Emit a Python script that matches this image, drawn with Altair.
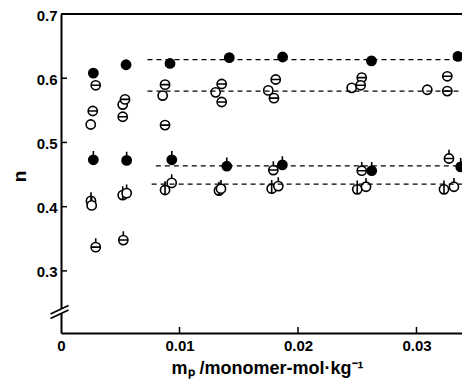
import altair as alt
import pandas as pd

# ---------------- data ----------------
# upper group
fill_x = [0.00273, 0.00549, 0.0092, 0.0142, 0.0187, 0.0262, 0.0335]
fill_y = [0.608, 0.621, 0.623, 0.632, 0.633, 0.627, 0.634]
open_x = [0.00251, 0.00521, 0.00858, 0.01305, 0.01749, 0.02453, 0.03091]
open_y = [0.528, 0.559, 0.573, 0.578, 0.581, 0.585, 0.582]
bara_x = [0.00293, 0.0054, 0.00878, 0.01356, 0.01812, 0.02538, 0.0326]
bara_y = [0.589, 0.567, 0.590, 0.591, 0.598, 0.601, 0.603]
barb_x = [0.00268, 0.00521, 0.00878, 0.01356, 0.01797, 0.02529, 0.0326]
barb_y = [0.549, 0.540, 0.527, 0.563, 0.569, 0.589, 0.580]
# lower group (symbols with a pip)
fillpip_x = [0.00273, 0.00554, 0.00935, 0.01399, 0.01868, 0.02622, 0.03373]
fillpip_y = [0.473, 0.472, 0.473, 0.463, 0.465, 0.456, 0.462]
barpip_x = [0.00293, 0.00526, 0.01792, 0.02538, 0.03274]
barpip_y = [0.337, 0.348, 0.457, 0.456, 0.475]
phipip_x = [0.00253, 0.00521, 0.00878, 0.01333, 0.01778, 0.0250, 0.03232]
phipip_y = [0.409, 0.418, 0.426, 0.425, 0.428, 0.427, 0.427]
openpip_x = [0.00259, 0.00554, 0.00934, 0.0135, 0.01834, 0.02574, 0.03316]
openpip_y = [0.402, 0.421, 0.437, 0.428, 0.432, 0.431, 0.431]

# dashed plateau lines
dash_y = [0.629, 0.580, 0.4635, 0.435]
dash_x0 = [0.0073, 0.0073, 0.0080, 0.00765]

x_ticks = [0.01, 0.02, 0.03]
y_ticks = [0.3, 0.4, 0.5, 0.6]
x_label_vals = [0, 0.01, 0.02, 0.03]
y_label_vals = [0.3, 0.4, 0.5, 0.6, 0.7]

X_MAX = 0.03384
Y_MIN, Y_MAX = 0.2033, 0.7
W, H = 401, 319
F = "Liberation Sans"

# ---------------- symbols ----------------
CIRC = "M-1,0A1,1,0,1,1,1,0A1,1,0,1,1,-1,0Z"
HBAR = "M-1,0L1,0"
PIP = "M0,-1L0,-1.9"
VBAR = "M0,-1.9L0,1"

series = [
    ("fill", fill_x, fill_y, CIRC, "black"),
    ("open", open_x, open_y, CIRC, "white"),
    ("bara", bara_x, bara_y, CIRC + HBAR, "white"),
    ("barb", barb_x, barb_y, CIRC + HBAR, "white"),
    ("fillpip", fillpip_x, fillpip_y, CIRC + PIP, "black"),
    ("barpip", barpip_x, barpip_y, CIRC + HBAR + PIP, "white"),
    ("phipip", phipip_x, phipip_y, CIRC + VBAR, "white"),
    ("openpip", openpip_x, openpip_y, CIRC + PIP, "white"),
]
rows = []
for name, xs_, ys_, _, _ in series:
    for a, b in zip(xs_, ys_):
        rows.append({"x": a, "y": b, "s": name})
df = pd.DataFrame(rows)
names = [s[0] for s in series]
paths = [s[3] for s in series]
fills = [s[4] for s in series]

xs = alt.Scale(domain=[0, X_MAX], nice=False, zero=False)
ys = alt.Scale(domain=[Y_MIN, Y_MAX], nice=False, zero=False)

xaxis = alt.Axis(
    values=x_label_vals,
    labelExpr="datum.value == 0 ? '0' : format(datum.value, '.2f')",
    ticks=False, grid=False, domainColor="black", domainWidth=2,
    labelFont=F, labelFontSize=15, labelFontWeight="bold", labelColor="black",
    labelPadding=5, labelFlush=False,
    title="mₚ /monomer-mol·kg⁻¹", titleFont=F, titleFontSize=18,
    titleFontWeight="bold", titleColor="black",
    titleX=206, titleY=40, titleBaseline="alphabetic", titleAlign="center",
)
yaxis = alt.Axis(
    values=y_label_vals, format=".1f",
    ticks=False, grid=False, domainColor="black", domainWidth=2,
    labelFont=F, labelFontSize=15, labelFontWeight="bold", labelColor="black",
    labelPadding=4, labelOffset=1,
    title="n", titleFont=F, titleFontSize=19, titleFontWeight="bold",
    titleColor="black", titleX=-42, titleY=162, titleAngle=-90,
    titleBaseline="middle", titleAlign="center",
)

pts = alt.Chart(df).mark_point(
    filled=True, size=85, stroke="black", strokeWidth=1.6, opacity=1, fillOpacity=1
).encode(
    x=alt.X("x:Q", scale=xs, axis=xaxis),
    y=alt.Y("y:Q", scale=ys, axis=yaxis),
    shape=alt.Shape("s:N", scale=alt.Scale(domain=names, range=paths), legend=None),
    fill=alt.Fill("s:N", scale=alt.Scale(domain=names, range=fills), legend=None),
)

dash_df = pd.DataFrame({"y": dash_y, "x0": dash_x0, "x1": [X_MAX] * len(dash_y)})
dashes = alt.Chart(dash_df).mark_rule(color="black", strokeWidth=1.3, strokeDash=[5, 4]).encode(
    x=alt.X("x0:Q", scale=xs, axis=xaxis), x2="x1:Q", y=alt.Y("y:Q", scale=ys, axis=yaxis)
)

xt = alt.Chart(pd.DataFrame({"t": x_ticks})).mark_rule(color="black", strokeWidth=1.5).encode(
    x=alt.X("t:Q", scale=xs, axis=xaxis), y=alt.value(H), y2=alt.value(H - 6)
)
yt = alt.Chart(pd.DataFrame({"t": y_ticks})).mark_rule(color="black", strokeWidth=1.5).encode(
    y=alt.Y("t:Q", scale=ys, axis=yaxis), x=alt.value(0), x2=alt.value(6)
)
top = alt.Chart(pd.DataFrame({"v": [Y_MAX]})).mark_rule(color="black", strokeWidth=2).encode(
    y=alt.Y("v:Q", scale=ys, axis=yaxis)
)

one = pd.DataFrame({"k": [0]})
gap = alt.Chart(one).mark_rule(color="white", strokeWidth=5).encode(
    x=alt.value(0), y=alt.value(295), y2=alt.value(299.5)
)
brk1 = alt.Chart(one).mark_rule(color="black", strokeWidth=1.8).encode(
    x=alt.value(-10.5), x2=alt.value(7.5), y=alt.value(300), y2=alt.value(291.5)
)
brk2 = alt.Chart(one).mark_rule(color="black", strokeWidth=1.8).encode(
    x=alt.value(-10.5), x2=alt.value(7.5), y=alt.value(304.5), y2=alt.value(296)
)

chart = alt.layer(pts, dashes, xt, yt, top, gap, brk1, brk2).properties(
    width=W, height=H,
    autosize=alt.AutoSizeParams(type="none"),
    padding={"left": 53, "top": 6, "right": 0, "bottom": 47},
    background="white",
).configure_view(stroke=None)

chart.save("out.html", embed_options={"renderer": "svg", "actions": False})
